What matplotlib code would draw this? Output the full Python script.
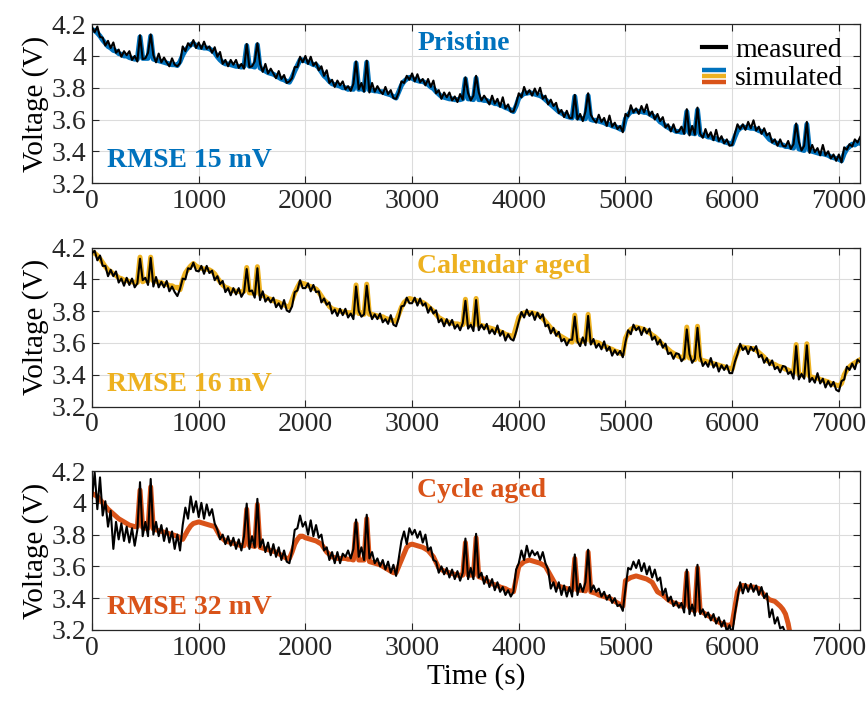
import numpy as np
import matplotlib
matplotlib.use("Agg")
import matplotlib.pyplot as plt
from matplotlib.lines import Line2D
from matplotlib.legend_handler import HandlerBase

plt.rcParams['font.family'] = ['Liberation Serif', 'DejaVu Serif']
plt.rcParams['font.size'] = 20

# MATLAB default colours
BLUE = '#0072BD'
YELLOW = '#EDB120'
ORANGE = '#D95319'

# sampling step (s), one row below = 500 s
DT = 25

# ---------------- Pristine (mV) ----------------
pristine_meas = [
    4180, 4150, 4185, 4120, 4115, 4065, 4095, 4050, 4085, 4020, 4040, 3995, 4030, 4005, 4030, 3975, 4000, 3965, 4130, 3980,
    3985, 4020, 4135, 4005, 3960, 4015, 3960, 3990, 3960, 3935, 3985, 3945, 3935, 3955, 4060, 4030, 4080, 4060, 4100, 4050,
    4085, 4045, 4090, 4045, 4060, 4020, 4055, 3995, 4025, 3950, 3975, 3935, 3975, 3945, 3975, 3925, 3950, 3920, 4075, 3930,
    3935, 3965, 4080, 3950, 3900, 3950, 3890, 3920, 3890, 3860, 3905, 3855, 3880, 3830, 3840, 3860, 3930, 3930, 3995, 3960,
    4000, 3950, 3995, 3940, 3960, 3910, 3935, 3875, 3910, 3830, 3850, 3805, 3845, 3815, 3840, 3790, 3810, 3780, 3825, 3965,
    3790, 3830, 3775, 3970, 3770, 3830, 3775, 3810, 3780, 3760, 3805, 3760, 3785, 3735, 3730, 3770, 3840, 3830, 3875, 3850,
    3890, 3840, 3885, 3835, 3855, 3815, 3855, 3805, 3845, 3765, 3785, 3730, 3770, 3740, 3770, 3720, 3745, 3710, 3760, 3725,
    3865, 3765, 3720, 3750, 3875, 3770, 3720, 3750, 3725, 3695, 3750, 3700, 3730, 3680, 3740, 3670, 3695, 3650, 3650, 3700,
    3765, 3740, 3805, 3760, 3785, 3750, 3795, 3755, 3800, 3730, 3750, 3695, 3725, 3685, 3705, 3640, 3660, 3615, 3655, 3610,
    3610, 3755, 3600, 3635, 3590, 3650, 3765, 3630, 3600, 3580, 3630, 3585, 3610, 3560, 3625, 3555, 3580, 3540, 3560, 3520,
    3635, 3620, 3690, 3645, 3670, 3635, 3685, 3645, 3695, 3625, 3650, 3600, 3635, 3590, 3615, 3550, 3570, 3525, 3570, 3520,
    3525, 3555, 3510, 3665, 3500, 3560, 3505, 3675, 3510, 3485, 3540, 3490, 3520, 3470, 3535, 3465, 3495, 3450, 3475, 3435,
    3440, 3510, 3570, 3540, 3570, 3535, 3585, 3545, 3595, 3530, 3555, 3510, 3545, 3500, 3515, 3455, 3475, 3435, 3475, 3435,
    3430, 3465, 3415, 3445, 3575, 3460, 3405, 3435, 3585, 3390, 3440, 3395, 3420, 3375, 3440, 3375, 3400, 3355, 3380, 3340,
    3380, 3330, 3425, 3410, 3445, 3430, 3475, 3455, 3490,
]
pristine_sim = [
    4165, 4160, 4145, 4125, 4100, 4080, 4060, 4050, 4035, 4030, 4015, 4010, 4000, 4000, 3990, 3985, 3980, 3980, 4120, 3985,
    3985, 3985, 4125, 3980, 3975, 3970, 3965, 3960, 3955, 3950, 3945, 3945, 3940, 3965, 4005, 4035, 4055, 4070, 4080, 4065,
    4055, 4055, 4050, 4050, 4045, 4035, 4020, 3995, 3975, 3960, 3950, 3950, 3945, 3940, 3935, 3935, 3930, 3935, 4065, 3935,
    3935, 3930, 4070, 3925, 3915, 3905, 3895, 3890, 3885, 3875, 3865, 3855, 3850, 3840, 3835, 3865, 3905, 3940, 3975, 3975,
    3970, 3960, 3955, 3945, 3945, 3925, 3900, 3875, 3860, 3840, 3825, 3820, 3815, 3810, 3800, 3800, 3790, 3795, 3790, 3955,
    3790, 3795, 3785, 3960, 3785, 3785, 3780, 3780, 3775, 3775, 3765, 3760, 3755, 3745, 3735, 3775, 3815, 3840, 3855, 3865,
    3860, 3850, 3845, 3840, 3840, 3830, 3820, 3805, 3795, 3775, 3760, 3745, 3740, 3735, 3730, 3730, 3725, 3725, 3725, 3730,
    3855, 3730, 3730, 3725, 3860, 3725, 3725, 3720, 3720, 3710, 3710, 3700, 3700, 3690, 3685, 3675, 3670, 3660, 3650, 3685,
    3735, 3750, 3765, 3765, 3770, 3765, 3760, 3755, 3750, 3740, 3725, 3710, 3695, 3680, 3665, 3650, 3640, 3630, 3620, 3615,
    3610, 3745, 3610, 3610, 3605, 3605, 3750, 3600, 3595, 3595, 3590, 3585, 3580, 3570, 3570, 3560, 3555, 3550, 3540, 3535,
    3605, 3630, 3650, 3650, 3655, 3650, 3650, 3645, 3645, 3635, 3625, 3615, 3605, 3585, 3575, 3560, 3550, 3540, 3535, 3525,
    3525, 3520, 3520, 3650, 3515, 3515, 3510, 3660, 3505, 3500, 3500, 3490, 3490, 3480, 3480, 3470, 3470, 3460, 3455, 3450,
    3445, 3490, 3530, 3545, 3555, 3550, 3550, 3545, 3545, 3540, 3530, 3525, 3515, 3495, 3475, 3465, 3455, 3450, 3440, 3440,
    3430, 3430, 3425, 3420, 3560, 3415, 3410, 3405, 3570, 3405, 3400, 3395, 3390, 3385, 3385, 3380, 3375, 3365, 3360, 3355,
    3350, 3340, 3385, 3415, 3430, 3445, 3440, 3455, 3450,
]

# ---------------- Calendar aged (mV) ----------------
calendar_meas = [
    4165, 4180, 4120, 4150, 4085, 4085, 4020, 4060, 4020, 4050, 3980, 4005, 3960, 4010, 3965, 4005, 3950, 3975, 4130, 3995,
    4010, 3965, 4135, 3955, 4015, 3950, 3985, 3950, 3990, 3925, 3955, 3920, 3895, 3940, 4005, 4000, 4070, 4065, 4105, 4055,
    4050, 4085, 4035, 4085, 4040, 4055, 3995, 4020, 3970, 3990, 3920, 3945, 3900, 3945, 3905, 3945, 3890, 3920, 4065, 3925,
    3930, 3885, 4070, 3870, 3925, 3860, 3885, 3855, 3885, 3825, 3850, 3815, 3870, 3805, 3795, 3830, 3920, 3930, 3995, 3945,
    3945, 3975, 3925, 3965, 3920, 3925, 3855, 3880, 3840, 3855, 3785, 3810, 3770, 3815, 3775, 3815, 3760, 3785, 3750, 3955,
    3800, 3765, 3780, 3960, 3805, 3750, 3780, 3750, 3785, 3730, 3750, 3720, 3775, 3715, 3705, 3760, 3830, 3835, 3885, 3850,
    3850, 3885, 3835, 3880, 3835, 3850, 3790, 3825, 3785, 3805, 3730, 3750, 3705, 3750, 3710, 3745, 3690, 3715, 3680, 3725,
    3865, 3690, 3715, 3675, 3870, 3680, 3715, 3685, 3720, 3660, 3685, 3655, 3710, 3645, 3675, 3615, 3655, 3625, 3615, 3670,
    3735, 3795, 3760, 3810, 3770, 3795, 3745, 3790, 3755, 3780, 3705, 3715, 3660, 3695, 3645, 3670, 3610, 3625, 3585, 3620,
    3620, 3765, 3610, 3580, 3635, 3585, 3770, 3590, 3625, 3570, 3595, 3560, 3610, 3550, 3575, 3520, 3555, 3525, 3550, 3510,
    3605, 3680, 3655, 3715, 3680, 3700, 3650, 3695, 3660, 3690, 3620, 3640, 3590, 3620, 3570, 3595, 3530, 3540, 3500, 3535,
    3530, 3485, 3505, 3685, 3530, 3475, 3500, 3695, 3515, 3455, 3480, 3450, 3505, 3445, 3475, 3420, 3460, 3430, 3460, 3410,
    3410, 3480, 3530, 3595, 3555, 3575, 3530, 3575, 3550, 3580, 3510, 3525, 3475, 3505, 3460, 3490, 3435, 3450, 3415, 3455,
    3450, 3405, 3420, 3375, 3580, 3370, 3405, 3375, 3585, 3355, 3380, 3350, 3410, 3345, 3375, 3320, 3360, 3325, 3355, 3305,
    3295, 3360, 3370, 3450, 3430, 3470, 3435, 3495, 3480,
]
calendar_sim = [
    4170, 4165, 4150, 4130, 4105, 4080, 4060, 4050, 4035, 4025, 4010, 4005, 3995, 3995, 3985, 3985, 3980, 3980, 4140, 3985,
    3995, 3990, 4140, 3990, 3990, 3980, 3980, 3970, 3970, 3960, 3960, 3950, 3950, 3935, 3995, 4040, 4065, 4085, 4100, 4085,
    4075, 4070, 4065, 4065, 4060, 4050, 4035, 4010, 3985, 3965, 3950, 3945, 3935, 3930, 3925, 3925, 3920, 3925, 4075, 3915,
    3915, 3910, 4080, 3905, 3900, 3890, 3880, 3875, 3865, 3860, 3855, 3845, 3840, 3830, 3825, 3870, 3915, 3950, 3980, 3975,
    3970, 3960, 3955, 3945, 3940, 3920, 3895, 3870, 3855, 3830, 3815, 3810, 3805, 3800, 3795, 3795, 3790, 3790, 3785, 3965,
    3785, 3790, 3780, 3970, 3780, 3780, 3775, 3770, 3765, 3765, 3755, 3750, 3745, 3740, 3735, 3780, 3825, 3855, 3870, 3880,
    3875, 3870, 3865, 3860, 3855, 3845, 3830, 3815, 3800, 3780, 3760, 3750, 3740, 3735, 3730, 3725, 3720, 3720, 3715, 3715,
    3875, 3715, 3715, 3710, 3880, 3710, 3710, 3705, 3700, 3695, 3690, 3685, 3680, 3670, 3665, 3655, 3650, 3645, 3640, 3700,
    3760, 3780, 3790, 3790, 3790, 3790, 3785, 3780, 3770, 3755, 3735, 3715, 3695, 3680, 3665, 3650, 3640, 3630, 3620, 3610,
    3605, 3775, 3610, 3615, 3610, 3615, 3780, 3610, 3605, 3605, 3600, 3590, 3580, 3575, 3565, 3560, 3550, 3545, 3535, 3530,
    3630, 3665, 3685, 3695, 3700, 3695, 3690, 3685, 3675, 3665, 3650, 3640, 3625, 3605, 3590, 3575, 3560, 3545, 3535, 3525,
    3515, 3510, 3505, 3700, 3505, 3505, 3495, 3705, 3495, 3490, 3485, 3480, 3475, 3470, 3465, 3460, 3455, 3450, 3445, 3440,
    3435, 3500, 3545, 3575, 3575, 3570, 3570, 3565, 3565, 3555, 3540, 3525, 3510, 3490, 3480, 3470, 3465, 3455, 3450, 3445,
    3435, 3430, 3420, 3410, 3590, 3400, 3400, 3395, 3595, 3390, 3385, 3380, 3380, 3370, 3365, 3360, 3355, 3345, 3340, 3335,
    3330, 3345, 3400, 3430, 3450, 3465, 3475, 3485, 3495,
]

# ---------------- Cycle aged (mV), record stops near 6500 s ----------------
cycle_meas = [
    4030, 4190, 3960, 4160, 3920, 4010, 3850, 3950, 3710, 3880, 3770, 3870, 3760, 3850, 3750, 3840, 3730, 3830, 4130, 3790,
    3880, 3790, 4150, 3800, 3880, 3790, 3860, 3760, 3840, 3750, 3820, 3710, 3800, 3700, 3860, 3970, 3900, 4040, 3940, 4010,
    3910, 4000, 3900, 3990, 3920, 3960, 3870, 3830, 3770, 3800, 3740, 3790, 3730, 3780, 3710, 3770, 3700, 3790, 3995, 3710,
    3790, 3720, 4025, 3720, 3770, 3690, 3750, 3670, 3740, 3660, 3720, 3640, 3700, 3630, 3620, 3700, 3830, 3840, 3920, 3850,
    3880, 3800, 3890, 3790, 3860, 3780, 3800, 3700, 3720, 3640, 3690, 3620, 3690, 3620, 3680, 3660, 3700, 3650, 3710, 3895,
    3660, 3720, 3640, 3925, 3650, 3690, 3620, 3650, 3600, 3640, 3580, 3630, 3560, 3610, 3540, 3650, 3760, 3820, 3740, 3840,
    3800, 3830, 3780, 3820, 3750, 3800, 3700, 3720, 3640, 3630, 3560, 3600, 3550, 3590, 3530, 3580, 3520, 3570, 3510, 3560,
    3775, 3520, 3590, 3520, 3805, 3530, 3560, 3490, 3540, 3470, 3520, 3450, 3500, 3440, 3470, 3420, 3450, 3410, 3440, 3580,
    3620, 3700, 3640, 3730, 3660, 3700, 3670, 3690, 3640, 3690, 3620, 3580, 3460, 3500, 3440, 3500, 3420, 3480, 3410, 3470,
    3410, 3675, 3420, 3490, 3440, 3500, 3705, 3440, 3480, 3440, 3460, 3410, 3440, 3390, 3420, 3370, 3400, 3350, 3360, 3320,
    3460, 3590, 3580, 3630, 3590, 3640, 3570, 3620, 3550, 3600, 3530, 3580, 3510, 3530, 3420, 3460, 3380, 3410, 3350, 3380,
    3340, 3370, 3310, 3580, 3300, 3360, 3290, 3610, 3300, 3330, 3280, 3310, 3260, 3300, 3240, 3280, 3220, 3260, 3190, 3230,
    3170, 3300, 3400, 3500, 3430, 3490, 3440, 3490, 3440, 3480, 3420, 3470, 3400, 3430, 3280, 3330, 3240, 3280, 3210, 3220,
    3180, 3170,
]
cycle_sim = [
    4060, 4050, 4040, 4020, 4000, 3980, 3960, 3945, 3930, 3915, 3900, 3890, 3880, 3870, 3860, 3855, 3850, 3850, 4080, 3845,
    3840, 3840, 4100, 3835, 3830, 3825, 3820, 3815, 3810, 3805, 3800, 3795, 3790, 3780, 3770, 3800, 3830, 3855, 3870, 3875,
    3880, 3875, 3870, 3865, 3860, 3855, 3850, 3820, 3790, 3775, 3760, 3755, 3750, 3745, 3740, 3735, 3730, 3730, 3960, 3730,
    3730, 3725, 3990, 3720, 3715, 3710, 3705, 3700, 3695, 3690, 3680, 3670, 3660, 3650, 3650, 3690, 3740, 3770, 3790, 3790,
    3780, 3775, 3770, 3765, 3760, 3750, 3740, 3715, 3690, 3675, 3660, 3655, 3650, 3650, 3650, 3650, 3645, 3645, 3640, 3870,
    3640, 3640, 3640, 3900, 3630, 3625, 3620, 3615, 3610, 3600, 3590, 3580, 3570, 3560, 3560, 3600, 3640, 3680, 3720, 3735,
    3740, 3735, 3730, 3725, 3720, 3710, 3700, 3680, 3660, 3625, 3590, 3580, 3570, 3565, 3560, 3555, 3550, 3545, 3545, 3545,
    3750, 3545, 3545, 3545, 3780, 3535, 3530, 3520, 3510, 3500, 3490, 3485, 3480, 3470, 3465, 3460, 3450, 3445, 3440, 3520,
    3600, 3615, 3630, 3635, 3640, 3635, 3630, 3625, 3620, 3610, 3600, 3570, 3540, 3510, 3480, 3475, 3470, 3465, 3460, 3455,
    3450, 3650, 3450, 3450, 3450, 3445, 3690, 3440, 3435, 3430, 3420, 3415, 3410, 3405, 3400, 3390, 3380, 3370, 3360, 3350,
    3510, 3520, 3530, 3535, 3540, 3535, 3530, 3525, 3520, 3510, 3500, 3470, 3440, 3430, 3420, 3405, 3390, 3380, 3370, 3365,
    3360, 3350, 3350, 3560, 3340, 3330, 3320, 3590, 3320, 3310, 3300, 3290, 3280, 3270, 3260, 3250, 3240, 3235, 3230, 3230,
    3240, 3340, 3440, 3470, 3480, 3475, 3470, 3470, 3470, 3465, 3460, 3440, 3420, 3405, 3390, 3385, 3380, 3365, 3350, 3330,
    3300, 3240, 3150,
]

panels = [
    ('Pristine', 'RMSE 15 mV', BLUE, pristine_meas, pristine_sim),
    ('Calendar aged', 'RMSE 16 mV', YELLOW, calendar_meas, calendar_sim),
    ('Cycle aged', 'RMSE 32 mV', ORANGE, cycle_meas, cycle_sim),
]


class SimHandle:
    """Dummy legend entry: three stacked coloured bars."""
    colors = [BLUE, YELLOW, ORANGE]


class HandlerStack(HandlerBase):
    def create_artists(self, legend, orig_handle, xdescent, ydescent,
                       width, height, fontsize, trans):
        yc = height / 2 - ydescent
        gap = 4.3
        arts = []
        for k, c in enumerate(orig_handle.colors):
            y = yc + (1 - k) * gap
            ln = Line2D([-xdescent, -xdescent + width], [y, y], color=c, lw=3.2,
                        solid_capstyle='butt', transform=trans)
            arts.append(ln)
        return arts


fig, axes = plt.subplots(3, 1, figsize=(8.68, 7.11), dpi=100)
plt.subplots_adjust(left=0.106, right=0.991, top=0.966, bottom=0.114, hspace=0.406)

for ax, (name, rmse, col, meas, sim) in zip(axes, panels):
    meas = np.array(meas) / 1000.0
    sim = np.array(sim) / 1000.0
    t_meas = np.arange(len(meas)) * DT
    t_sim = np.arange(len(sim)) * DT

    ax.plot(t_sim, sim, color=col, lw=3.6, zorder=2)
    ax.plot(t_meas, meas, color='black', lw=1.5, zorder=3)

    ax.set_xlim(0, 7200)
    ax.set_ylim(3.2, 4.2)
    ax.set_xticks(np.arange(0, 7001, 1000))
    ax.set_yticks([3.2, 3.4, 3.6, 3.8, 4.0, 4.2])
    ax.set_yticklabels(['3.2', '3.4', '3.6', '3.8', '4', '4.2'])
    ax.grid(True, color='#dcdcdc', lw=0.8)
    ax.set_axisbelow(True)
    ax.tick_params(direction='in', length=5, width=0.8, top=True, right=True,
                   labelsize=20, colors='#262626', pad=4)
    for sp in ax.spines.values():
        sp.set_color('#262626')
        sp.set_linewidth(0.9)
    ax.set_ylabel('Voltage (V)', fontsize=21, labelpad=2)

    ax.text(3050, 4.08, name, color=col, fontweight='bold', fontsize=20,
            ha='left', va='center')
    ax.text(140, 3.34, rmse, color=col, fontweight='bold', fontsize=20,
            ha='left', va='center')

axes[2].set_xlabel('Time (s)', fontsize=21, labelpad=2)

h_meas = Line2D([], [], color='black', lw=3)
axes[0].legend([h_meas, SimHandle()], ['measured', 'simulated'],
               handler_map={SimHandle: HandlerStack()},
               loc='upper right', bbox_to_anchor=(1.0, 1.02), frameon=False,
               fontsize=20, handlelength=0.85, handletextpad=0.35,
               labelspacing=0.1, borderaxespad=0.2)

plt.savefig('out.png', dpi=100)
